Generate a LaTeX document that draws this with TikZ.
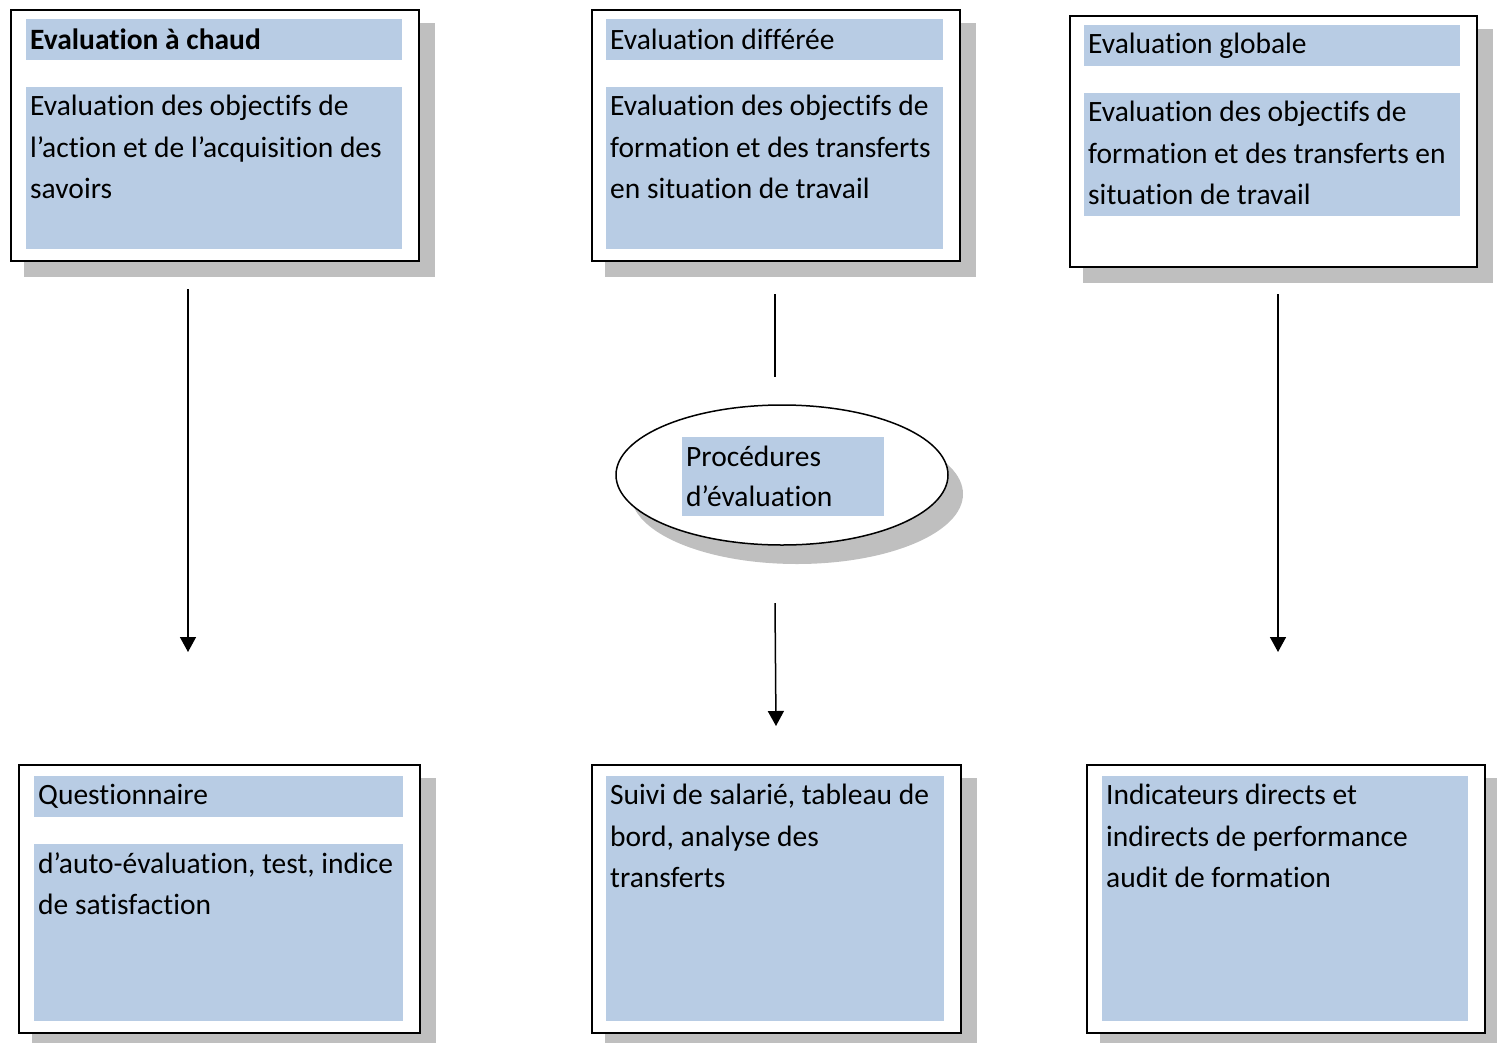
\documentclass[tikz,border=0pt]{standalone}
\usepackage{fontspec}
\setmainfont{Carlito}[Ligatures={NoCommon}]
\usepackage{xcolor}
\definecolor{BOXBLUE}{RGB}{184,204,228}
\colorlet{SHADOWCOLOR}{gray!50}
\usepackage{tikz}
\usetikzlibrary{shapes.geometric,arrows.meta,positioning,calc,backgrounds}
\tikzset{
  frame-style/.style = {
    rectangle, draw, line width=1.5pt, fill=white,
    inner sep=0pt, anchor=north west
  },
  shadow-style/.style = {
    rectangle, fill=SHADOWCOLOR, inner sep=0pt, anchor=north west
  },
  blue-style/.style = {
    rectangle, fill=BOXBLUE, inner sep=0pt, anchor=north west
  },
  title-style/.style = {
    blue-style, text width=#1, inner xsep=4pt, align=flush left,
    minimum height=41pt,
    font=\fontsize{29.5}{41.5}\selectfont
  },
  text-style/.style = {
    inner sep=0pt, align=left,
    font=\fontsize{29.5}{41.5}\selectfont
  },
  arrow-style/.style = {
    line width=1.5pt, -{Triangle[width=16pt,length=15pt]}
  },
  line-style/.style = {
    line width=1.5pt
  }
}
% frame with its grey shadow: name, north west corner, width, height
\newcommand\shadowFrame[4]{
  \node[shadow-style, minimum width=#3+3, minimum height=#4+3]
    (#1Shadow) at ($#2+(14,14)$) {};
  \node[frame-style, minimum width=#3, minimum height=#4] (#1) at #2 {};
}

\begin{document}
\begin{tikzpicture}[x=1pt,y=-1pt]
    \useasboundingbox (0,0) rectangle (1497,1042);

    %%% top row
    \shadowFrame{chaud}{(10,9)}{408}{251}
    \node[title-style=368] (chaudTitle) at (26,19) {\textbf{Evaluation à chaud}};
    \node[blue-style, minimum width=376, minimum height=162] (chaudBody) at (26,87) {};
    \node[text-style, below right=8pt and 4pt of chaudBody.north west] (chaudText)
      {Evaluation des objectifs de\\l’action et de l’acquisition des\\savoirs};

    \shadowFrame{differee}{(591,9)}{368}{251}
    \node[title-style=329] (differeeTitle) at (606,19) {Evaluation différée};
    \node[blue-style, minimum width=337, minimum height=162] (differeeBody) at (606,87) {};
    \node[text-style, below right=8pt and 4pt of differeeBody.north west] (differeeText)
      {Evaluation des objectifs de\\formation et des transferts\\en situation de travail};

    \shadowFrame{globale}{(1069,15)}{407}{251}
    \node[title-style=368] (globaleTitle) at (1084,25) {Evaluation globale};
    \node[blue-style, minimum width=376, minimum height=123] (globaleBody) at (1084,93) {};
    \node[text-style, below right=8pt and 4pt of globaleBody.north west] (globaleText)
      {Evaluation des objectifs de\\formation et des transferts en\\situation de travail};

    %%% procedures
    \node[ellipse, fill=SHADOWCOLOR, minimum width=332, minimum height=140]
      (procShadow) at (797,494) {};
    \node[ellipse, draw, line width=1.5pt, fill=white, minimum width=332, minimum height=140]
      (proc) at (782,475) {};
    \node[blue-style, text width=194, inner xsep=4pt, minimum height=79, align=flush left,
      font=\fontsize{29.5}{40}\selectfont] (procText) at (682,437)
      {Procédures\\d’évaluation};

    %%% bottom row
    \shadowFrame{quest}{(18,764)}{401}{268}
    \node[title-style=361] (questTitle) at (34,776) {Questionnaire};
    \node[blue-style, minimum width=369, minimum height=177] (questBody) at (34,844) {};
    \node[text-style, below right=8pt and 4pt of questBody.north west] (questText)
      {d’auto-évaluation, test, indice\\de satisfaction};

    \shadowFrame{suivi}{(591,764)}{369}{268}
    \node[blue-style, minimum width=338, minimum height=245] (suiviBody) at (606,776) {};
    \node[text-style, below right=8pt and 4pt of suiviBody.north west] (suiviText)
      {Suivi de salarié, tableau de\\bord, analyse des\\transferts};

    \shadowFrame{indic}{(1086,764)}{398}{268}
    \node[blue-style, minimum width=366, minimum height=245] (indicBody) at (1102,776) {};
    \node[text-style, below right=8pt and 4pt of indicBody.north west] (indicText)
      {Indicateurs directs et\\indirects de performance\\audit de formation};

    %%% arrows
    \coordinate (chaudOut) at (188,289);
    \coordinate (questIn) at (188,652);
    \coordinate (differeeOut) at (775,294);
    \coordinate (procIn) at (775,377);
    \coordinate (procOut) at (775,603);
    \coordinate (suiviIn) at (776,726);
    \coordinate (globaleOut) at (1278,294);
    \coordinate (indicIn) at (1278,652);
    \draw[arrow-style] (chaudOut) -- (questIn);
    \draw[line-style] (differeeOut) -- (procIn);
    \draw[arrow-style] (procOut) -- (suiviIn);
    \draw[arrow-style] (globaleOut) -- (indicIn);
\end{tikzpicture}
\end{document}
